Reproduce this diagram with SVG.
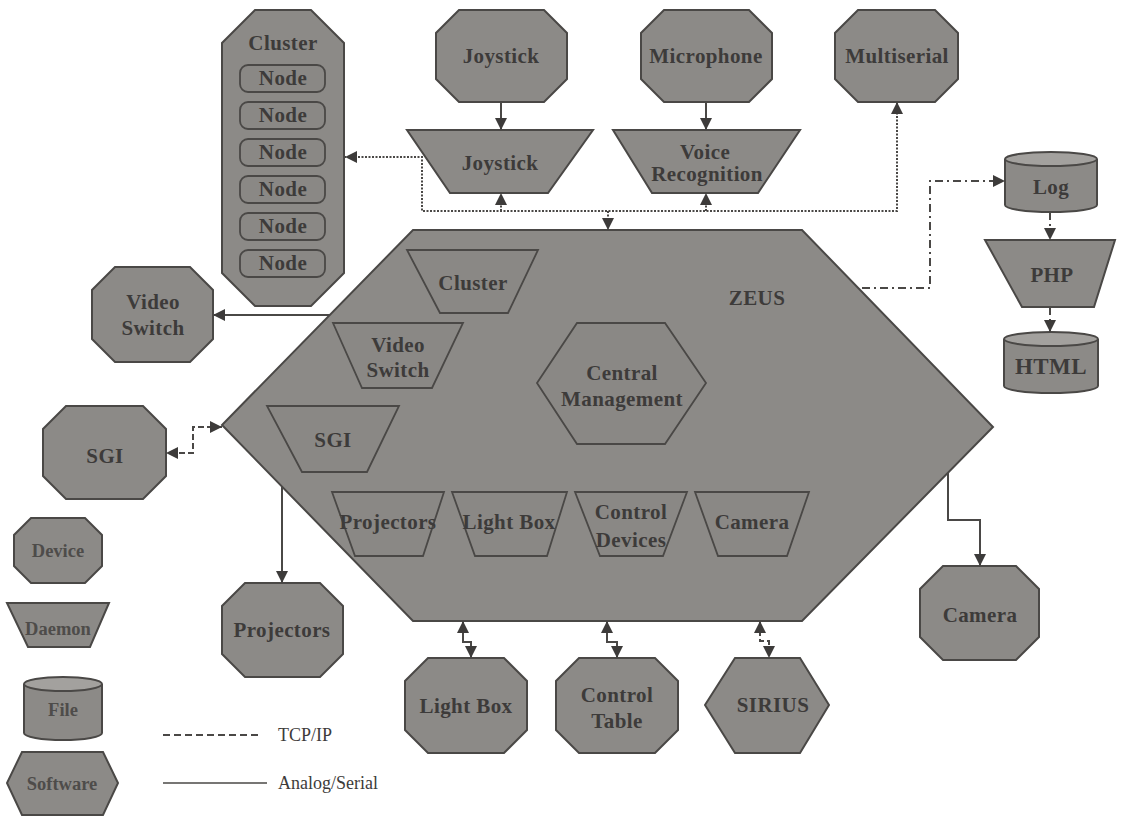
<svg xmlns="http://www.w3.org/2000/svg" width="1121" height="817" viewBox="0 0 1121 817">
<style>
.s{fill:#8c8a87;stroke:#4a4846;stroke-width:2;stroke-linejoin:miter}
.in{fill:#8a8885;stroke:#4a4846;stroke-width:1.8}
.top{fill:#a3a19e;stroke:#4a4846;stroke-width:2}
.t{font-family:"Liberation Serif","Times New Roman",serif;font-weight:bold;font-size:21px;letter-spacing:0.4px;fill:#3d3b3a;text-anchor:middle}
.lg{font-family:"Liberation Serif","Times New Roman",serif;font-weight:bold;font-size:18.5px;fill:#4e4c4a;text-anchor:middle}
.lt{font-family:"Liberation Serif","Times New Roman",serif;font-size:18px;fill:#3d3b3a}
.c{fill:none;stroke:#4a4846;stroke-width:2}
.dot{stroke-dasharray:2 1.5}
.dd{stroke-dasharray:8 4 2 4}
.da{stroke-dasharray:6 3}
</style>
<defs>
<marker id="ah" viewBox="0 0 12 12" refX="12" refY="6" markerWidth="12" markerHeight="12" markerUnits="userSpaceOnUse" orient="auto-start-reverse">
<path d="M0,0 L12,6 L0,12 Z" fill="#3d3b3a"/>
</marker>
</defs>
<rect width="1121" height="817" fill="#ffffff"/>

<g id="zeus">
<polygon class="s" points="413,230 802,230 993,427 802,621 413,621 222,425"/>
<text class="t" x="757" y="305">ZEUS</text>
</g>
<g id="zeus-cluster">
<polygon class="in" points="407,250 538,250 508,313 440,313"/>
<text class="t" x="473" y="290">Cluster</text>
</g>
<g id="zeus-videoswitch">
<polygon class="in" points="333,323 463,323 432,388 362,388"/>
<text class="t" x="398" y="352">Video</text>
<text class="t" x="398" y="377">Switch</text>
</g>
<g id="zeus-sgi">
<polygon class="in" points="267,406 399,406 367,472 302,472"/>
<text class="t" x="333" y="447">SGI</text>
</g>
<g id="central-management">
<polygon class="in" points="577,323 665,323 706,383 665,444 577,444 537,383"/>
<text class="t" x="622" y="380">Central</text>
<text class="t" x="622" y="406">Management</text>
</g>
<g id="zeus-projectors">
<polygon class="in" points="332,492 444,492 423,556 355,556"/>
<text class="t" x="388" y="529">Projectors</text>
</g>
<g id="zeus-lightbox">
<polygon class="in" points="452,492 567,492 547,556 475,556"/>
<text class="t" x="509" y="529">Light Box</text>
</g>
<g id="zeus-controldevices">
<polygon class="in" points="575,492 687,492 663,556 600,556"/>
<text class="t" x="631" y="519">Control</text>
<text class="t" x="631" y="547">Devices</text>
</g>
<g id="zeus-camera">
<polygon class="in" points="695,492 809,492 787,556 718,556"/>
<text class="t" x="752" y="529">Camera</text>
</g>

<g id="cluster">
<polygon class="s" points="255,10 311,10 344,43 344,273 311,306 255,306 222,273 222,43"/>
<text class="t" x="283" y="50">Cluster</text>
<rect class="in" x="240" y="65" width="85" height="27" rx="8"/>
<text class="t" x="283" y="85">Node</text>
<rect class="in" x="240" y="102" width="85" height="27" rx="8"/>
<text class="t" x="283" y="122">Node</text>
<rect class="in" x="240" y="139" width="85" height="27" rx="8"/>
<text class="t" x="283" y="159">Node</text>
<rect class="in" x="240" y="176" width="85" height="27" rx="8"/>
<text class="t" x="283" y="196">Node</text>
<rect class="in" x="240" y="213" width="85" height="27" rx="8"/>
<text class="t" x="283" y="233">Node</text>
<rect class="in" x="240" y="250" width="85" height="27" rx="8"/>
<text class="t" x="283" y="270">Node</text>
</g>

<g id="joystick-device">
<polygon class="s" points="459,10 544,10 567,33 567,79 544,102 459,102 436,79 436,33"/>
<text class="t" x="501" y="63">Joystick</text>
</g>
<g id="joystick-daemon">
<polygon class="s" points="407,130 593,130 548,193 450,193"/>
<text class="t" x="500" y="170">Joystick</text>
</g>
<g id="microphone">
<polygon class="s" points="664,10 749,10 772,33 772,79 749,102 664,102 641,79 641,33"/>
<text class="t" x="706" y="63">Microphone</text>
</g>
<g id="voice-recognition">
<polygon class="s" points="613,130 800,130 758,193 652,193"/>
<text class="t" x="705" y="159">Voice</text>
<text class="t" x="707" y="181">Recognition</text>
</g>
<g id="multiserial">
<polygon class="s" points="858,10 935,10 958,33 958,79 935,102 858,102 835,79 835,33"/>
<text class="t" x="897" y="63">Multiserial</text>
</g>

<g id="log">
<path class="s" d="M1005,159 V205 A46,7 0 0 0 1097,205 V159"/>
<ellipse class="top" cx="1051" cy="159" rx="46" ry="7"/>
<text class="t" x="1051" y="194">Log</text>
</g>
<g id="php">
<polygon class="s" points="985,240 1115,240 1094,307 1022,307"/>
<text class="t" x="1052" y="282">PHP</text>
</g>
<g id="html">
<path class="s" d="M1004,339 V386 A47,7 0 0 0 1098,386 V339"/>
<ellipse class="top" cx="1051" cy="339" rx="47" ry="7"/>
<text class="t" x="1051" y="374" style="font-size:23px">HTML</text>
</g>

<g id="video-switch">
<polygon class="s" points="115,267 190,267 213,290 213,339 190,362 115,362 92,339 92,290"/>
<text class="t" x="153" y="309">Video</text>
<text class="t" x="153" y="335">Switch</text>
</g>
<g id="sgi">
<polygon class="s" points="66,406 143,406 166,429 166,476 143,499 66,499 43,476 43,429"/>
<text class="t" x="105" y="463">SGI</text>
</g>
<g id="projectors">
<polygon class="s" points="245,583 320,583 343,606 343,654 320,677 245,677 222,654 222,606"/>
<text class="t" x="282" y="637">Projectors</text>
</g>
<g id="light-box">
<polygon class="s" points="428,658 504,658 527,681 527,730 504,753 428,753 405,730 405,681"/>
<text class="t" x="466" y="713">Light Box</text>
</g>
<g id="control-table">
<polygon class="s" points="579,658 655,658 678,681 678,730 655,753 579,753 556,730 556,681"/>
<text class="t" x="617" y="702">Control</text>
<text class="t" x="617" y="728">Table</text>
</g>
<g id="sirius">
<polygon class="s" points="735,658 800,658 829,705 800,753 735,753 705,705"/>
<text class="t" x="773" y="712">SIRIUS</text>
</g>
<g id="camera">
<polygon class="s" points="943,566 1016,566 1039,589 1039,637 1016,660 943,660 920,637 920,589"/>
<text class="t" x="980" y="622">Camera</text>
</g>

<g id="legend">
<g id="legend-device">
<polygon class="s" points="31,518 85,518 102,535 102,566 85,583 31,583 14,566 14,535"/>
<text class="lg" x="58" y="557">Device</text>
</g>
<g id="legend-daemon">
<polygon class="s" points="7,603 109,603 90,647 28,647"/>
<text class="lg" x="58" y="635">Daemon</text>
</g>
<g id="legend-file">
<path class="s" d="M24,684 V733 A39,7 0 0 0 102,733 V684"/>
<ellipse class="top" cx="63" cy="684" rx="39" ry="7"/>
<text class="lg" x="63" y="716">File</text>
</g>
<g id="legend-software">
<polygon class="s" points="22,752 103,752 118,783 103,815 22,815 7,783"/>
<text class="lg" x="62" y="790">Software</text>
</g>
<line class="c" x1="163" y1="735" x2="262" y2="735" style="stroke-width:1.8;stroke-dasharray:7 4"/>
<text class="lt" x="278" y="741">TCP/IP</text>
<line class="c" x1="163" y1="783" x2="267" y2="783" style="stroke-width:1.5"/>
<text class="lt" x="278" y="789">Analog/Serial</text>
</g>

<g id="connectors">
<line class="c" x1="501" y1="102" x2="501" y2="130" marker-end="url(#ah)"/>
<line class="c" x1="706" y1="102" x2="706" y2="130" marker-end="url(#ah)"/>
<path class="c dot" d="M897,102 V211 H422 V157 H345" marker-start="url(#ah)" marker-end="url(#ah)"/>
<line class="c dot" x1="501" y1="211" x2="501" y2="193" marker-end="url(#ah)"/>
<line class="c dot" x1="706" y1="211" x2="706" y2="193" marker-end="url(#ah)"/>
<line class="c dot" x1="608" y1="211" x2="608" y2="230" marker-end="url(#ah)"/>
<path class="c dd" d="M862,288 H930 V181 H1005" marker-end="url(#ah)"/>
<line class="c dd" x1="1050" y1="212" x2="1050" y2="240" marker-end="url(#ah)"/>
<line class="c dd" x1="1050" y1="307" x2="1050" y2="332" marker-end="url(#ah)"/>
<line class="c" x1="330" y1="315" x2="213" y2="315" marker-end="url(#ah)"/>
<path class="c da" d="M222,427 H193 V453 H166" marker-start="url(#ah)" marker-end="url(#ah)"/>
<line class="c" x1="282" y1="487" x2="282" y2="583" marker-end="url(#ah)"/>
<path class="c" d="M463,621 V642 H471 V658" marker-start="url(#ah)" marker-end="url(#ah)"/>
<path class="c" d="M607,621 V642 H617 V658" marker-start="url(#ah)" marker-end="url(#ah)"/>
<path class="c da" d="M760,621 V641 H769 V658" marker-start="url(#ah)" marker-end="url(#ah)"/>
<path class="c" d="M948,473 V520 H980 V566" marker-end="url(#ah)"/>
</g>
</svg>
